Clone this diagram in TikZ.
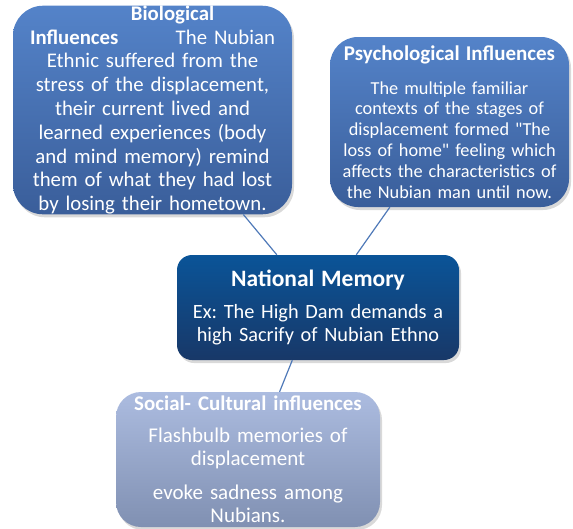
\documentclass[tikz,border=0pt]{standalone}
\usepackage{fontspec}
\setmainfont{Carlito}[Ligatures=TeXOff]
\usetikzlibrary{shadows}

\definecolor{bioTop}{RGB}{84,131,201}
\definecolor{bioBot}{RGB}{58,94,154}
\definecolor{natTop}{RGB}{10,84,152}
\definecolor{natBot}{RGB}{24,56,104}
\definecolor{socTop}{RGB}{172,188,224}
\definecolor{socBot}{RGB}{128,144,178}
\definecolor{linkcol}{RGB}{79,121,184}

\tikzset{
	box/.style={rectangle, inner sep=0pt, align=center, text=white,
		drop shadow={opacity=0.3, shadow xshift=2pt, shadow yshift=-3pt}},
	link/.style={draw=linkcol, line width=1.2pt}
}

\begin{document}
\frenchspacing
\begin{tikzpicture}[x=1pt, y=-1pt]

			\useasboundingbox (0,0) rectangle (573,528);

			% Biological influences (top left)
			\node[box, rounded corners=30pt, top color=bioTop, bottom color=bioBot,
				minimum width=279pt, minimum height=206pt, text width=245pt,
				font=\fontsize{20.8}{23.8}\selectfont] (bio) at (152.5,110)
				{\hspace*{40pt}\textbf{Biological}\\
				\textbf{Influences}\hfill The Nubian\\
				Ethnic suffered from the\\
				stress of the displacement,\\
				their current lived and\\
				learned experiences (body\\
				and mind memory) remind\\
				them of what they had lost\\
				by losing their hometown.};

			% Psychological influences (top right)
			\node[box, rounded corners=28pt, top color=bioTop, bottom color=bioBot,
				minimum width=239pt, minimum height=170pt, text width=235pt,
				font=\fontsize{18.3}{20.8}\selectfont] (psy) at (449.5,122)
				{{\fontsize{21}{22}\selectfont\textbf{Psychological Influences}}\\[13pt]
				The multiple familiar\\
				contexts of the stages of\\
				displacement formed "The\\
				loss of home" feeling which\\
				affects the characteristics of\\
				the Nubian man until now.};

			% National memory (centre)
			\node[box, rounded corners=15pt, top color=natTop, bottom color=natBot,
				minimum width=282pt, minimum height=105pt, text width=270pt,
				font=\fontsize{20.3}{23}\selectfont] (nat) at (318,307.5)
				{{\fontsize{23.5}{24}\selectfont\textbf{National Memory}}\\[9pt]
				Ex: The High Dam demands a\\
				high Sacrify of Nubian Ethno};

			% Social-cultural influences (bottom)
			\node[box, rounded corners=25pt, top color=socTop, bottom color=socBot,
				minimum width=264pt, minimum height=135pt, text width=258pt,
				font=\fontsize{21}{23.5}\selectfont] (soc) at (248,459.5)
				{{\fontsize{20.9}{22}\selectfont\textbf{Social- Cultural influences}}\\[8pt]
				Flashbulb memories of\\
				displacement\\[10pt]
				evoke sadness among\\
				Nubians.};

			% Links to the national memory
			\draw[link] (bio.-49.6) -- (nat.128.5);
			\draw[link] (psy.235) -- (nat.54.3);
			\draw[link] (nat.244.5) -- (soc.65.3);

		\end{tikzpicture}
\end{document}
